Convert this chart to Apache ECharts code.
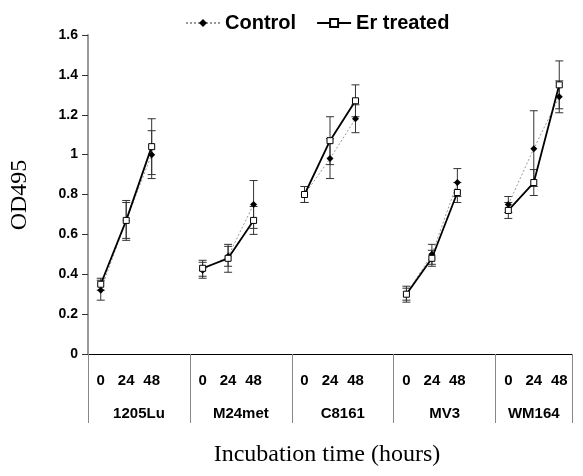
<!DOCTYPE html>
<html><head><meta charset="utf-8">
<script src="https://cdn.jsdelivr.net/npm/echarts@6/dist/echarts.min.js"></script>
<style>html,body{margin:0;padding:0;background:#fff}#c{width:583px;height:476px}</style>
</head><body><div id="c"></div>
<script>
const groups = ['1205Lu','M24met','C8161','MV3','WM164'];
const hours = ['0','24','48'];
const controlMean = [[0.32,0.67,1.00],[0.42,0.49,0.75],[0.80,0.98,1.18],[0.30,0.50,0.86],[0.75,1.03,1.29]];
const controlErr  = [[0.05,0.09,0.12],[0.04,0.05,0.12],[0.04,0.10,0.07],[0.04,0.05,0.07],[0.04,0.19,0.08]];
const erMean = [[0.35,0.67,1.04],[0.43,0.48,0.67],[0.80,1.07,1.27],[0.30,0.48,0.81],[0.72,0.86,1.35]];
const erErr  = [[0.03,0.10,0.14],[0.04,0.07,0.07],[0.04,0.12,0.08],[0.03,0.04,0.05],[0.04,0.065,0.12]];
const yTicks = [0,0.2,0.4,0.6,0.8,1,1.2,1.4,1.6];

// build slots: each group = 3 hours + 1 blank (except the last group)
const slots = [];
const groupStart = [];
groups.forEach((g, gi) => {
  groupStart.push(slots.length);
  hours.forEach(h => slots.push(h));
  if (gi < groups.length - 1) slots.push('');
});
const nSlots = slots.length;
function lineData(means){
  const d = new Array(nSlots).fill(null);
  means.forEach((arr, gi) => arr.forEach((v, hi) => { d[groupStart[gi] + hi] = v; }));
  return d;
}
function errData(means, errs){
  const d = [];
  means.forEach((arr, gi) => arr.forEach((v, hi) => d.push([groupStart[gi] + hi, v, errs[gi][hi]])));
  return d;
}
const groupBounds = groupStart.concat([nSlots]);
const groupCenters = groups.map((g, gi) => (groupBounds[gi] + groupBounds[gi+1]) / 2);

function errRender(params, api){
  const x = api.value(0), y = api.value(1), e = api.value(2);
  const t = api.coord([x, y + e]);
  const b = api.coord([x, y - e]);
  const w = 4;
  const st = {stroke: '#333', lineWidth: 1};
  return {type:'group', children:[
    {type:'line', shape:{x1:t[0], y1:t[1], x2:b[0], y2:b[1]}, style:st},
    {type:'line', shape:{x1:t[0]-w, y1:t[1], x2:t[0]+w, y2:t[1]}, style:st},
    {type:'line', shape:{x1:b[0]-w, y1:b[1], x2:b[0]+w, y2:b[1]}, style:st}
  ]};
}

const chart = echarts.init(document.getElementById('c'), null, {renderer:'canvas'});
const font = 'Liberation Sans, Arial, sans-serif';
const serif = 'Liberation Serif, Times New Roman, serif';
chart.setOption({
  animation: false,
  legend: {
    left: 180, top: 8, itemWidth: 34, itemHeight: 10, itemGap: 20,
    textStyle: {fontFamily: font, fontWeight: 'bold', fontSize: 20, color: '#000'},
    data: ['Control', 'Er treated']
  },
  grid: {left: 88, right: 11, top: 35, bottom: 122, containLabel: false, outerBoundsMode: 'none'},
  xAxis: [{
    type: 'category', data: slots, boundaryGap: true,
    axisLine: {lineStyle: {color: '#000', width: 1}},
    axisTick: {interval: 0, length: 36, lineStyle: {color: '#888'}},
    axisLabel: {interval: 0, margin: 19, fontFamily: font, fontWeight: 'bold', fontSize: 15, color: '#000'}
  }, {
    type: 'value', min: 0, max: nSlots, position: 'bottom',
    axisLine: {show: false}, splitLine: {show: false},
    axisTick: {show: true, customValues: groupBounds, length: 69, lineStyle: {color: '#888'}},
    axisLabel: {customValues: groupCenters, margin: 52, fontFamily: font, fontWeight: 'bold', fontSize: 15, color: '#000',
      formatter: v => { const i = groupCenters.indexOf(v); return i >= 0 ? groups[i] : ''; }}
  }],
  yAxis: {
    type: 'value', min: yTicks[0], max: yTicks[yTicks.length-1], interval: 0.2,
    axisLine: {show: true, lineStyle: {color: '#999', width: 2}},
    axisTick: {show: true, length: 6, lineStyle: {color: '#333'}},
    splitLine: {show: false},
    axisLabel: {margin: 10, fontFamily: font, fontWeight: 'bold', fontSize: 14, color: '#000'}
  },
  graphic: [{
    type: 'text', x: 327, y: 455,
    style: {text: 'Incubation time (hours)', font: '24px "Liberation Serif", "Times New Roman", serif', fill: '#000', align: 'center', verticalAlign: 'middle'}
  }, {
    type: 'text', x: 20, y: 195, rotation: Math.PI / 2,
    style: {text: 'OD495', font: '24px "Liberation Serif", "Times New Roman", serif', fill: '#000', align: 'center', verticalAlign: 'middle'}
  }],
  series: [
    {type: 'custom', name: 'errC', renderItem: errRender, data: errData(controlMean, controlErr), z: 1, silent: true},
    {type: 'custom', name: 'errE', renderItem: errRender, data: errData(erMean, erErr), z: 1, silent: true},
    {type: 'line', name: 'Control', data: lineData(controlMean), connectNulls: false,
      symbol: 'diamond', symbolSize: 7, showAllSymbol: true,
      lineStyle: {color: '#999', width: 1, type: [2, 2]},
      itemStyle: {color: '#000', borderColor: '#000', borderWidth: 0}, z: 3},
    {type: 'line', name: 'Er treated', data: lineData(erMean), connectNulls: false,
      symbol: 'rect', symbolSize: 6, showAllSymbol: true,
      lineStyle: {color: '#000', width: 1.8},
      itemStyle: {color: '#fff', borderColor: '#000', borderWidth: 1}, z: 4}
  ]
});
</script></body></html>
